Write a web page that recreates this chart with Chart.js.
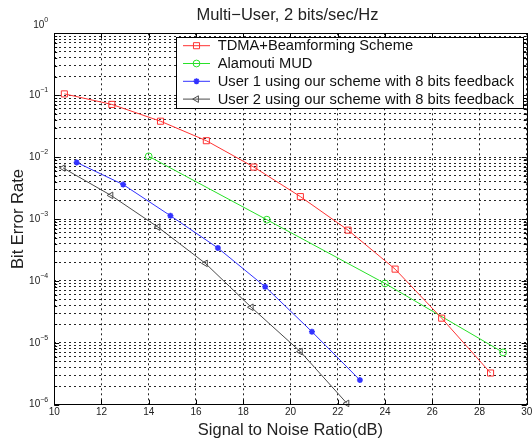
<!DOCTYPE html>
<html><head><meta charset="utf-8">
<script src="https://cdn.jsdelivr.net/npm/chart.js@4.4.0/dist/chart.umd.min.js"></script>
<style>html,body{margin:0;padding:0;background:#fff}#wrap{width:532px;height:441px}</style>
</head><body><div id="wrap"><canvas id="c" width="532" height="441"></canvas></div>
<script>
const titleText = 'Multi\u2212User, 2 bits/sec/Hz';
const xLabel = 'Signal to Noise Ratio(dB)';
const yLabel = 'Bit Error Rate';
const seriesLabels = ['TDMA+Beamforming Scheme', 'Alamouti MUD', 'User 1 using our scheme with 8 bits feedback', 'User 2 using our scheme with 8 bits feedback'];
const xTicks = [10, 12, 14, 16, 18, 20, 22, 24, 26, 28, 30];
const yExponents = [-6, -5, -4, -3, -2, -1, 0];

const snrTDMA = [10.43, 12.44, 14.5, 16.44, 18.45, 20.42, 22.44, 24.43, 26.4, 28.47];
const berTDMA = [0.105, 0.071, 0.038, 0.0184, 0.0069, 0.0023, 6.6e-4, 1.55e-4, 2.5e-5, 3.25e-6];
const snrAlamouti = [14, 19, 24, 29];
const berAlamouti = [0.0103, 9.75e-4, 9.1e-5, 7.0e-6];
const snrUser1 = [10.95, 12.92, 14.92, 16.93, 18.93, 20.91, 22.94];
const berUser1 = [0.0082, 0.0036, 0.00113, 3.4e-4, 8.05e-5, 1.51e-5, 2.5e-6];
const snrUser2 = [10.38, 12.4, 14.39, 16.4, 18.34, 20.42, 22.39];
const berUser2 = [0.00667, 0.00241, 7.4e-4, 1.92e-4, 3.75e-5, 7.2e-6, 1.05e-6];

const FONT = '"Liberation Sans", Arial, Helvetica, sans-serif';
const pts = (xs, ys) => xs.map((x, i) => ({x: x, y: ys[i]}));

const styles = [
  {color: 'rgb(255,50,50)', pointStyle: 'rect', radius: 4.3, rotation: 0, bw: 1, fill: 'rgba(0,0,0,0)'},
  {color: 'rgb(40,225,40)', pointStyle: 'circle', radius: 3.4, rotation: 0, bw: 1, fill: 'rgba(0,0,0,0)'},
  {color: 'rgb(50,50,255)', pointStyle: 'star', radius: 3, rotation: 0, bw: 1.6, fill: 'rgb(50,50,255)'},
  {color: 'rgb(75,75,75)', pointStyle: 'triangle', radius: 3.8, rotation: -90, bw: 1, fill: 'rgba(0,0,0,0)'}
];
const seriesData = [pts(snrTDMA, berTDMA), pts(snrAlamouti, berAlamouti), pts(snrUser1, berUser1), pts(snrUser2, berUser2)];

const datasets = seriesData.map((d, i) => ({
  label: seriesLabels[i],
  data: d,
  borderColor: styles[i].color,
  backgroundColor: styles[i].fill,
  borderWidth: 1,
  pointStyle: styles[i].pointStyle,
  pointRadius: styles[i].radius,
  pointHoverRadius: styles[i].radius,
  pointRotation: styles[i].rotation,
  pointBorderWidth: styles[i].bw,
  pointBorderColor: styles[i].color,
  pointBackgroundColor: styles[i].fill,
  tension: 0,
  clip: false
}));

function drawMarker(ctx, st, x, y) {
  ctx.save();
  ctx.strokeStyle = st.color;
  ctx.fillStyle = st.fill;
  ctx.lineWidth = st.bw;
  if (Chart.helpers && Chart.helpers.drawPoint) {
    Chart.helpers.drawPoint(ctx, {pointStyle: st.pointStyle, rotation: st.rotation, radius: st.radius, borderWidth: st.bw}, x, y);
  } else {
    ctx.beginPath(); ctx.arc(x, y, st.radius, 0, Math.PI * 2); ctx.fill(); ctx.stroke();
  }
  ctx.restore();
}

const framePlugin = {
  id: 'frame',
  afterDatasetsDraw(chart) {
    const ctx = chart.ctx, a = chart.chartArea;
    const xs = chart.scales.x, ys = chart.scales.y;
    ctx.save();
    ctx.strokeStyle = '#000';
    ctx.lineWidth = 1;
    ctx.setLineDash([]);
    ctx.beginPath();
    xs.ticks.forEach(t => {
      const px = Math.round(xs.getPixelForValue(t.value)) + 0.5;
      ctx.moveTo(px, a.bottom); ctx.lineTo(px, a.bottom - 5);
      ctx.moveTo(px, a.top); ctx.lineTo(px, a.top + 5);
    });
    ys.ticks.forEach(t => {
      const py = Math.round(ys.getPixelForValue(t.value)) + 0.5;
      const len = t.major ? 5 : 3;
      ctx.moveTo(a.left, py); ctx.lineTo(a.left + len, py);
      ctx.moveTo(a.right, py); ctx.lineTo(a.right - len, py);
    });
    ctx.stroke();
    ctx.strokeRect(Math.round(a.left) + 0.5, Math.round(a.top) + 0.5, Math.round(a.right - a.left), Math.round(a.bottom - a.top));
    ctx.restore();
  },
  afterDraw(chart) {
    const ctx = chart.ctx, a = chart.chartArea;
    const ys = chart.scales.y;
    ctx.save();
    // title
    ctx.fillStyle = '#222';
    ctx.font = '16.5px ' + FONT;
    ctx.textAlign = 'center';
    ctx.textBaseline = 'middle';
    ctx.fillText(titleText, (a.left + a.right) / 2 - 3, 15);
    // y tick labels with superscript exponents
    ctx.textBaseline = 'middle';
    yExponents.forEach(e => {
      const v = Math.pow(10, e);
      let py = ys.getPixelForValue(v);
      if (e === 0) py -= 8;
      const expStr = e < 0 ? '\u2212' + Math.abs(e) : String(e);
      ctx.font = '7px ' + FONT;
      const ew = ctx.measureText(expStr).width;
      ctx.font = '10px ' + FONT;
      const bw = ctx.measureText('10').width;
      const right = a.left - 6;
      ctx.textAlign = 'left';
      ctx.fillText('10', right - ew - bw, py);
      ctx.font = '7px ' + FONT;
      ctx.fillText(expStr, right - ew, py - 5);
    });
    // legend
    const bx = 176, by = 37, bw2 = 347, bh = 71;
    ctx.fillStyle = '#fff';
    ctx.fillRect(bx, by, bw2, bh);
    ctx.strokeStyle = '#000';
    ctx.lineWidth = 1;
    ctx.strokeRect(bx + 0.5, by + 0.5, bw2, bh);
    chart.data.datasets.forEach((ds, i) => {
      const y = 45.7 + i * 17.8;
      ctx.strokeStyle = ds.borderColor;
      ctx.lineWidth = 1;
      ctx.beginPath(); ctx.moveTo(183, y); ctx.lineTo(210, y); ctx.stroke();
      drawMarker(ctx, styles[i], 196.5, y);
      ctx.fillStyle = '#111';
      ctx.font = '14.7px ' + FONT;
      ctx.textAlign = 'left';
      ctx.textBaseline = 'middle';
      ctx.fillText(ds.label, 217.7, y + 0.5);
    });
    ctx.restore();
  }
};

new Chart(document.getElementById('c'), {
  type: 'line',
  data: {datasets: datasets},
  options: {
    responsive: false,
    animation: false,
    events: [],
    layout: {padding: {left: 0, right: 2.7, top: 33.3, bottom: 0}},
    plugins: {
      legend: {display: false},
      tooltip: {enabled: false},
      title: {display: false}
    },
    scales: {
      x: {
        type: 'linear', min: 10, max: 30,
        afterBuildTicks(scale) { scale.ticks = xTicks.map(v => ({value: v})); },
        afterFit(scale) { scale.height = 36.3; scale.paddingLeft = 0; scale.paddingRight = 0; },
        ticks: {stepSize: 2, autoSkip: false, maxRotation: 0, color: '#222', padding: 2, font: {family: FONT, size: 10}},
        grid: {color: 'rgba(0,0,0,0.85)', lineWidth: 1, drawTicks: false},
        border: {display: false, dash: [2, 3]},
        title: {display: true, text: xLabel, color: '#222', font: {family: FONT, size: 16.5}, padding: {top: 0, bottom: 1}}
      },
      y: {
        type: 'logarithmic', min: 1e-6, max: 1,
        afterBuildTicks(scale) {
          const t = [];
          yExponents.forEach(e => {
            for (let m = 1; m <= 9; m++) {
              const v = m * Math.pow(10, e);
              if (v > 1.000001) break;
              t.push({value: v, major: m === 1});
            }
          });
          scale.ticks = t;
        },
        afterFit(scale) { scale.width = 54.2; scale.paddingTop = 0; scale.paddingBottom = 0; },
        ticks: {display: false, autoSkip: false},
        grid: {color: 'rgba(0,0,0,0.85)', lineWidth: 1, drawTicks: false},
        border: {display: false, dash: [2, 3]},
        title: {display: true, text: yLabel, color: '#222', font: {family: FONT, size: 16.5}, padding: {top: 9, bottom: 0}}
      }
    }
  },
  plugins: [framePlugin]
});
</script>
</body></html>
